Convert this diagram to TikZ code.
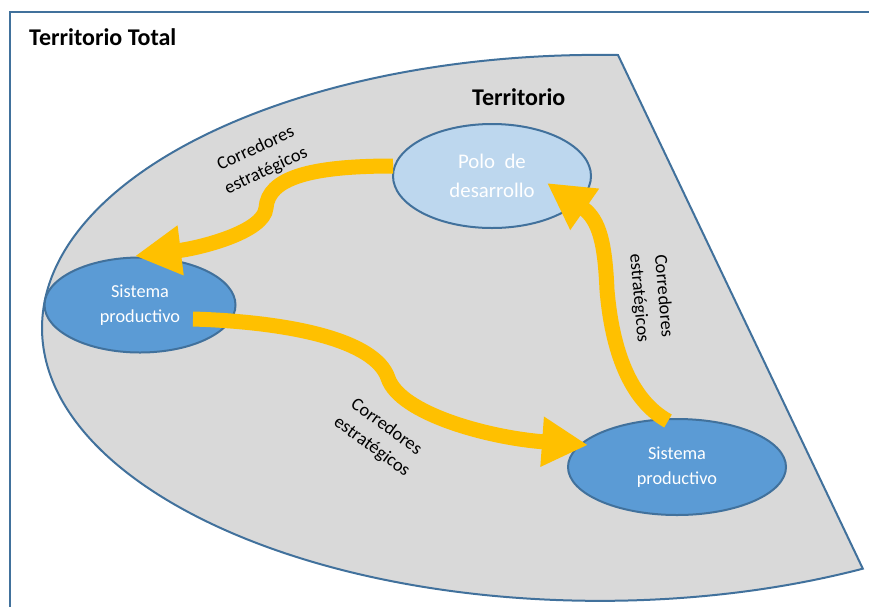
\documentclass[tikz,border=0pt]{standalone}
\usepackage{fontspec}
\setmainfont{Carlito}
\usetikzlibrary{shapes.geometric,arrows.meta}
\definecolor{frameblue}{HTML}{41719C}
\definecolor{terrgray}{HTML}{D9D9D9}
\definecolor{polofill}{HTML}{BDD7EE}
\definecolor{sisfill}{HTML}{5B9BD5}
\definecolor{corr}{HTML}{FFC000}
\begin{document}
\begin{tikzpicture}[x=1pt,y=-1pt,
  blob/.style={ellipse, draw=frameblue, line width=2pt, inner sep=0pt, text=white, align=center},
  corarrow/.style={draw=corr, line width=15pt, -{Triangle[length=46pt,width=47pt]}},
  lbl/.style={align=center, font=\fontsize{18.3}{24.5}\selectfont, inner sep=0pt},
  title/.style={font=\bfseries\fontsize{24}{28}\selectfont, inner sep=0pt, anchor=base west}]
\useasboundingbox (0,0) rectangle (869,606);
\clip (0,0) rectangle (869,606);
\draw[frameblue, line width=2.2pt] (10,12) rectangle (900,640);
\filldraw[fill=terrgray, draw=frameblue, line width=2pt, line join=miter]
  (618,55) arc[start angle=88.15, end angle=298.1, x radius=558pt, y radius=273pt] -- cycle;
\node[title] (tt) at (29,45) {Territorio Total};
\node[title] (tr) at (472,105) {Territorio};
\node[blob, fill=polofill, minimum width=198pt, minimum height=104pt,
  font=\fontsize{20.8}{29}\selectfont] (polo) at (492,176) {Polo\ \ de\\desarrollo};
\node[blob, fill=sisfill, minimum width=191pt, minimum height=95pt,
  font=\fontsize{18.3}{24.5}\selectfont] (sisA) at (140,305) {Sistema\\productivo};
\node[blob, fill=sisfill, minimum width=218pt, minimum height=96pt,
  font=\fontsize{18.3}{24.5}\selectfont] (sisB) at (677,467) {Sistema\\productivo};
\coordinate (a1s) at (393,166); \coordinate (a1t) at (135,256);
\coordinate (a2s) at (193,319); \coordinate (a2t) at (588,445);
\coordinate (a3s) at (668,421); \coordinate (a3t) at (547,183);
\draw[corarrow] (a1s) .. controls (310,166) and (268,178) .. (266,208)
  .. controls (264,232) and (200,248) .. (a1t);
\draw[corarrow] (a2s) .. controls (290,322) and (375,340) .. (388,378)
  .. controls (400,414) and (490,438) .. (a2t);
\draw[corarrow] (a3s) .. controls (630,400) and (612,350) .. (607,290)
  .. controls (605,245) and (600,220) .. (a3t);
\node[lbl, rotate=25] (l1) at (261,160) {Corredores\\estratégicos};
\node[lbl, rotate=-85] (l2) at (651,297) {Corredores\\estratégicos};
\node[lbl, rotate=-36] (l3) at (379,437) {Corredores\\estratégicos};
\end{tikzpicture}
\end{document}
